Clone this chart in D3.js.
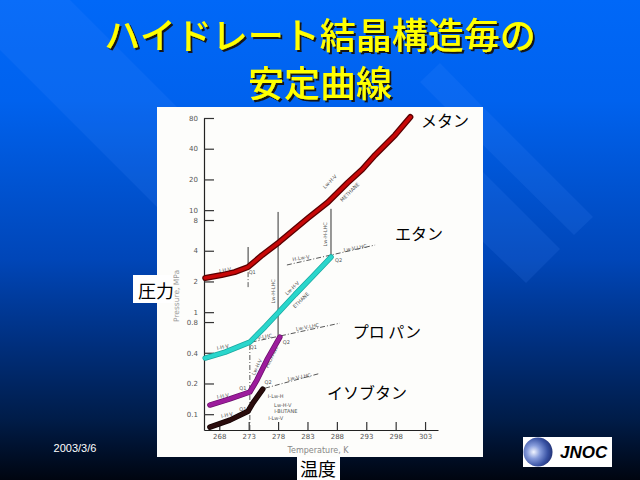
<!DOCTYPE html>
<html><head><meta charset="utf-8">
<script src="https://cdn.jsdelivr.net/npm/d3@7"></script>
<style>body{margin:0;overflow:hidden;background:#000}</style>
</head><body>
<svg id="c" width="640" height="480"></svg>
<script>
// ---------- data ----------
const titleLines = ["ハイドレート結晶構造毎の", "安定曲線"];
const xTicks = [268, 273, 278, 283, 288, 293, 298, 303];
const yTicks = [0.1, 0.2, 0.4, 0.8, 1, 2, 4, 8, 10, 20, 40, 80];

const methaneT = [265.6, 268.4, 270.6, 272.9, 275.3, 278.2, 283.1, 286.5, 289.8, 292.3, 294.5, 297.9, 300.5];
const methaneP = [2.16, 2.31, 2.47, 2.77, 3.63, 4.87, 8.37, 12.0, 18.5, 25.0, 34.7, 54.5, 81.8];
const ethaneT  = [265.6, 269.0, 273.2, 275.8, 278.2, 280.9, 283.8, 287.0];
const ethaneP  = [0.355, 0.406, 0.509, 0.72, 1.01, 1.49, 2.22, 3.47];
const propaneT = [266.4, 269.8, 273.2, 274.4, 276.1, 278.3];
const propaneP = [0.123, 0.141, 0.165, 0.216, 0.340, 0.570];
const ibutaneT = [266.4, 269.8, 272.9, 273.7, 275.4];
const ibutaneP = [0.0748, 0.0875, 0.107, 0.1285, 0.176];

const seriesNames = ["メタン", "エタン", "プロ パン", "イソブタン"];
const seriesColors = ["#c80808", "#2ad6cc", "#9c1c9c", "#2a0c0c"];
const seriesNameT = [302.3, 297.9, 290.7, 286.3];
const seriesNameP = [65.3, 5.09, 0.557, 0.141];

// phase-boundary guide lines of the original diagram [T1,P1,T2,P2]
const solidGuides = [[278.0, 0.557, 278.0, 9.6], [287.0, 3.47, 287.0, 10.3], [272.9, 2.77, 272.9, 4.35]];
const dashedGuides = [[279.5, 2.90, 294.5, 4.55], [273.5, 0.509, 288.5, 0.78], [275.8, 0.180, 285.1, 0.251],
                      [273.2, 0.07, 273.2, 0.50], [272.9, 1.76, 272.9, 2.77]];
// small annotation labels [text, T, P, rotation]
const noteText = ["I-H-V","I-H-V","I-H-V","I-H-V","Lw-H-V","METHANE","Lw-H-V","ETHANE","Lw-H-V","PROPANE",
  "I-Lw-H","Lw-H-V","I-BUTANE","I-Lw-V","Lw-V-LHC","H-Lw-V","Lw-V-LHC","H-V-LHC","Lw-V-LHC","Lw-H-LHC","Lw-H-LHC",
  "Q1","Q2","Q1","Q2","Q1","Q1","Q2"];
const noteT = [269.0,268.6,268.6,269.3,286.8,290.2,280.4,281.9,274.4,276.9,277.6,278.8,279.3,277.6,291.1,281.9,283.0,275.3,281.6,277.1,286.0,
  273.6,288.3,273.8,279.4,272.0,272.0,276.3];
const noteP = [2.59,0.455,0.151,0.098,19,15,1.72,1.31,0.29,0.363,0.151,0.123,0.107,0.0917,4.25,3.39,0.715,0.57,0.231,1.6,5.8,
  2.47,3.24,0.455,0.51,0.18,0.112,0.206];
const noteRot = [-10,-12,-10,-12,-45,-45,-45,-45,-65,-65,0,0,0,0,-10,-10,-10,-10,-10,-90,-90,0,0,0,0,0,0,0];

// ---------- drawing ----------
const svg = d3.select("#c");
const defs = svg.append("defs");
const bg = defs.append("linearGradient").attr("id","bg").attr("x1",0).attr("y1",0).attr("x2",0).attr("y2",1);
[[0,"#0068f8"],[0.21,"#0062ee"],[0.54,"#0046b8"],[0.71,"#003080"],[0.875,"#001c48"],[1,"#000510"]]
  .forEach(s=>bg.append("stop").attr("offset",s[0]).attr("stop-color",s[1]));
svg.append("rect").attr("width",640).attr("height",480).attr("fill","url(#bg)");
const sh = defs.append("filter").attr("id","tsh").attr("x","-5%").attr("y","-20%").attr("width","115%").attr("height","150%");
sh.append("feDropShadow").attr("dx",2).attr("dy",2).attr("stdDeviation",0).attr("flood-color","#181818").attr("flood-opacity",1);

// diagonal decorative bands
const bands = [
  [[-60,-10],[60,-10],[200,130],[157,207]],
  [[440,63],[483,107],[593,217],[574,235],[483,145],[420,82]],
  [[420,110],[483,172],[560,249],[526,283],[483,242],[420,180]]
];
svg.selectAll("path.band").data(bands).join("path").attr("class","band")
  .attr("d", d => "M" + d.map(p=>p.join(",")).join("L") + "Z")
  .attr("fill","#4a90ff").attr("opacity",0.13);

// white chart panel
svg.append("rect").attr("x",157).attr("y",107).attr("width",326).attr("height",350).attr("fill","#fdfdfb");

const x = d3.scaleLinear().domain([265.4, 305.2]).range([204, 438]);
const y = d3.scaleLog().domain([0.07, 80]).range([430, 118]);

const g = svg.append("g");
const yAxis = d3.axisLeft(y).tickValues(yTicks).tickFormat(d=>String(d)).tickSize(-10).tickSizeOuter(0).tickPadding(6);
const ya = g.append("g").attr("transform","translate(204,0)").call(yAxis);
const xAxis = d3.axisBottom(x).tickValues(xTicks).tickFormat(d=>String(d)).tickSize(-8).tickSizeOuter(0).tickPadding(4);
const xa = g.append("g").attr("transform","translate(0,430)").call(xAxis);
[ya, xa].forEach(a=>{
  a.select(".domain").attr("stroke","#222").attr("stroke-width",1.2);
  a.selectAll(".tick line").attr("stroke","#333").attr("stroke-width",1.2);
  a.selectAll(".tick text").attr("fill","#555").style("font","7px 'DejaVu Sans'");
});
g.append("text").attr("transform","translate(179,322) rotate(-90)").attr("fill","#999")
  .style("font","7.5px 'DejaVu Sans'").text("Pressure, MPa");
g.append("text").attr("x",x(284.8)).attr("y",453).attr("text-anchor","middle").attr("fill","#888")
  .style("font","8px 'DejaVu Sans'").text("Temperature, K");

// guides
g.selectAll("line.sg").data(solidGuides).join("line").attr("class","sg")
  .attr("x1",d=>x(d[0])).attr("y1",d=>y(d[1])).attr("x2",d=>x(d[2])).attr("y2",d=>y(d[3]))
  .attr("stroke","#333").attr("stroke-width",1);
g.selectAll("line.dg").data(dashedGuides).join("line").attr("class","dg")
  .attr("x1",d=>x(d[0])).attr("y1",d=>y(d[1])).attr("x2",d=>x(d[2])).attr("y2",d=>y(d[3]))
  .attr("stroke","#444").attr("stroke-width",0.9).attr("stroke-dasharray","5,2,1,2");

// notes
g.selectAll("text.note").data(noteText.map((t,i)=>({t, T:noteT[i], P:noteP[i], r:noteRot[i]}))).join("text")
  .attr("class","note").attr("text-anchor","middle").attr("dy","0.35em")
  .attr("transform",d=>`translate(${x(d.T)},${y(d.P)}) rotate(${d.r})`)
  .attr("fill","#555").style("font","5px 'DejaVu Sans'").text(d=>d.t);

// curves
const line = d3.line().x(d=>x(d[0])).y(d=>y(d[1]));
const series = [
  d3.zip(methaneT, methaneP), d3.zip(ethaneT, ethaneP), d3.zip(propaneT, propaneP), d3.zip(ibutaneT, ibutaneP)
];
const under = ["#5a0000", "#1aa8a0", "#6a106a", "#140404"];
series.forEach((s,i)=>{
  g.append("path").attr("d",line(s)).attr("fill","none").attr("stroke",under[i])
    .attr("stroke-width",i===0?6:5.5).attr("stroke-linecap","round").attr("stroke-linejoin","round");
  g.append("path").attr("d",line(s)).attr("fill","none").attr("stroke",seriesColors[i])
    .attr("stroke-width",i===0?3.5:4).attr("stroke-linecap","round").attr("stroke-linejoin","round");
});

// series names
g.selectAll("text.sn").data(seriesNames).join("text").attr("class","sn")
  .attr("x",(d,i)=>x(seriesNameT[i])).attr("y",(d,i)=>y(seriesNameP[i]))
  .attr("fill","#000").style("font","16px 'Noto Sans CJK JP'").style("white-space","pre").text(d=>d);

// axis caption boxes
svg.append("rect").attr("x",133).attr("y",275).attr("width",40).attr("height",28).attr("fill","#fff");
svg.append("text").attr("x",138).attr("y",298).attr("fill","#000").style("font","18px 'Noto Sans CJK JP'").text("圧力");
svg.append("rect").attr("x",297).attr("y",457).attr("width",43).attr("height",23).attr("fill","#fff");
svg.append("text").attr("x",300).attr("y",476).attr("fill","#000").style("font","18px 'Noto Sans CJK JP'").text("温度");

// title
const titleY = [49, 97];
titleLines.forEach((t,i)=>{
  svg.append("text").attr("x",320).attr("y",titleY[i]).attr("text-anchor","middle").attr("fill","#ffff00")
    .attr("filter","url(#tsh)").style("font","500 36px 'Noto Sans CJK JP'").text(t);
});

// date
svg.append("text").attr("x",75).attr("y",452).attr("text-anchor","middle").attr("fill","#fff")
  .style("font","11px 'Liberation Sans'").text("2003/3/6");

// logo
svg.append("rect").attr("x",523).attr("y",437).attr("width",89).attr("height",30).attr("fill","#fff");
const rg = defs.append("radialGradient").attr("id","sph").attr("cx","35%").attr("cy","50%").attr("r","65%");
[[0,"#f0f4ff"],[0.35,"#7a92d8"],[0.75,"#24409a"],[1,"#0c1e6a"]].forEach(s=>rg.append("stop").attr("offset",s[0]).attr("stop-color",s[1]));
defs.append("clipPath").attr("id","sc").append("circle").attr("cx",538).attr("cy",452).attr("r",14.5);
svg.append("circle").attr("cx",538).attr("cy",452).attr("r",14.5).attr("fill","url(#sph)");
svg.append("g").attr("clip-path","url(#sc)").selectAll("line").data(d3.range(438,467,2)).join("line")
  .attr("x1",523).attr("x2",553).attr("y1",d=>d).attr("y2",d=>d).attr("stroke","#fff").attr("stroke-opacity",0.25).attr("stroke-width",0.8);
svg.append("text").attr("x",560).attr("y",458).attr("fill","#000")
  .style("font","italic bold 17px 'Liberation Sans'").text("JNOC");
</script>
</body></html>
